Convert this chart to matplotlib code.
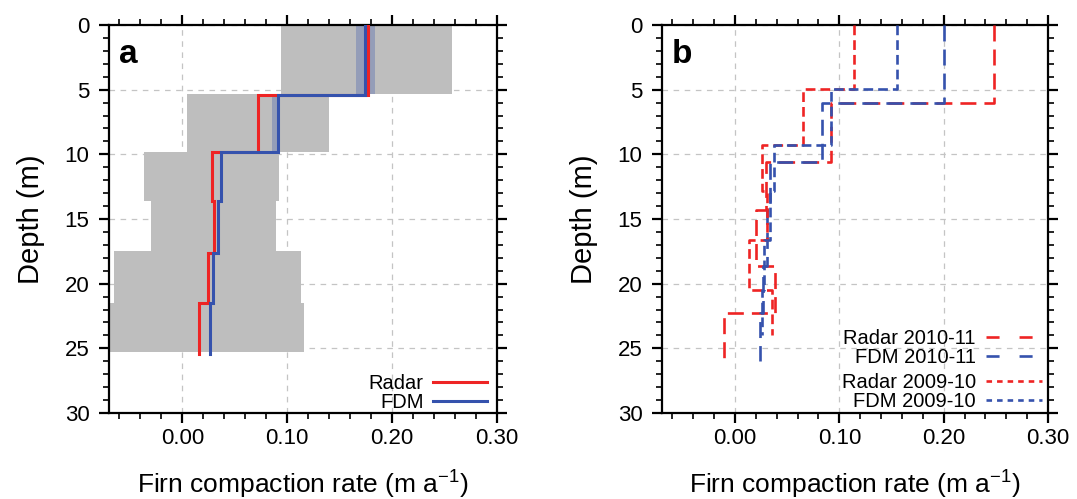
import numpy as np
import matplotlib
matplotlib.use("Agg")
import matplotlib.pyplot as plt
from matplotlib.lines import Line2D
from matplotlib.ticker import MultipleLocator, FormatStrFormatter

plt.rcParams['font.family'] = ['Liberation Sans', 'DejaVu Sans']
plt.rcParams['lines.scale_dashes'] = False
plt.rcParams['mathtext.fontset'] = 'custom'
plt.rcParams['mathtext.rm'] = 'Liberation Sans'

# ---------------- data ----------------
# panel a: layer edges (depth, m)
a_edges = [0, 5.4, 9.85, 13.6, 17.6, 21.5, 25.4]
a_radar = [0.177, 0.0717, 0.028, 0.030, 0.024, 0.016]
a_fdm = [0.174, 0.091, 0.037, 0.0337, 0.029, 0.026]
# uncertainty (grey) range
a_unc_edges = [0, 5.3, 9.8, 13.6, 17.5, 21.5, 25.3]
a_unc_lo = [0.094, 0.004, -0.037, -0.030, -0.065, -0.070]
a_unc_hi = [0.257, 0.140, 0.092, 0.089, 0.113, 0.116]
# FDM spread (first two layers)
a_fdm_lo = [0.166, 0.085]
a_fdm_hi = [0.184, 0.092]

# panel b
edges_0910 = [0, 4.95, 9.25, 12.8, 16.6, 20.5, 24.0]
edges_1011 = [0, 6.06, 10.57, 14.3, 18.6, 22.3, 26.0]
radar_1011 = [0.248, 0.092, 0.030, 0.020, 0.0385, -0.0106]
fdm_1011 = [0.200, 0.083, 0.034, 0.031, 0.027, 0.024]
radar_0910 = [0.114, 0.065, 0.026, 0.031, 0.0135, 0.035]
fdm_0910 = [0.155, 0.092, 0.0375, 0.034, 0.028, 0.026]

xticks = [0.00, 0.10, 0.20, 0.30]
yticks = [0, 5, 10, 15, 20, 25, 30]

RED = '#ee2424'
BLUE = '#3552ad'
GREY = '#bebebe'

LONG = (0, (11.5, 5.8))
SHORT = (0, (7.0, 3.6))
LONG_LEG = (0, (9.4, 14.4))
SHORT_LEG = (0, (4.0, 3.6))


def steps(vals, edges):
    e = np.asarray(edges, float)
    y = np.column_stack([e[:-1], e[1:]]).ravel()
    x = np.repeat(np.asarray(vals, float), 2)
    return x, y


fig = plt.figure(figsize=(10.77, 4.99), dpi=100)
ax_a = fig.add_axes([109 / 1077, 1 - 413 / 499, 388 / 1077, 388 / 499])
ax_b = fig.add_axes([662 / 1077, 1 - 413 / 499, 386 / 1077, 388 / 499])

for ax in (ax_a, ax_b):
    ax.set_xlim(-0.07, 0.30)
    ax.set_ylim(30, 0)
    ax.set_xticks(xticks)
    ax.set_yticks(yticks)
    ax.xaxis.set_major_formatter(FormatStrFormatter('%.2f'))
    ax.xaxis.set_minor_locator(MultipleLocator(0.02))
    ax.yaxis.set_minor_locator(MultipleLocator(1))
    ax.tick_params(which='both', direction='out', top=True, right=True,
                   labelsize=16)
    ax.tick_params(axis='x', which='both', pad=4)
    ax.tick_params(axis='y', which='both', pad=7)
    ax.tick_params(which='major', length=7, width=1.6)
    ax.tick_params(which='minor', length=4, width=1.2)
    for s in ax.spines.values():
        s.set_linewidth(1.6)
    ax.set_axisbelow(True)
    ax.grid(True, which='major', color='#c4c4c4', linewidth=0.9,
            linestyle=(0, (4, 4)))
    ax.set_xlabel('Firn compaction rate (m a$^{-1}$)', fontsize=19, labelpad=13)
    ax.set_ylabel('Depth (m)', fontsize=21, labelpad=14)

# ---- panel a ----
ue = np.asarray(a_unc_edges, float)
lo = np.asarray(a_unc_lo)
hi = np.asarray(a_unc_hi)
ax_a.barh((ue[:-1] + ue[1:]) / 2, hi - lo, left=lo, height=ue[1:] - ue[:-1],
          color=GREY, edgecolor='none', zorder=1)
flo = np.asarray(a_fdm_lo)
fhi = np.asarray(a_fdm_hi)
n = len(flo)
ax_a.barh((ue[:n] + ue[1:n + 1]) / 2, fhi - flo, left=flo,
          height=ue[1:n + 1] - ue[:n], color=BLUE, alpha=0.3,
          edgecolor='none', zorder=1.5)
x, y = steps(a_radar, a_edges)
ax_a.plot(x, y, color=RED, lw=2.2, zorder=3, solid_joinstyle='miter')
x, y = steps(a_fdm, a_edges)
ax_a.plot(x, y, color=BLUE, lw=2.2, zorder=4, solid_joinstyle='miter')
ax_a.text(0.025, 0.925, 'a', transform=ax_a.transAxes, fontsize=24,
          fontweight='bold', va='center', ha='left')
h_a = [Line2D([], [], color=RED, lw=2.2), Line2D([], [], color=BLUE, lw=2.2)]
ax_a.legend(h_a, ['Radar', 'FDM'], loc='center right',
            bbox_to_anchor=(0.974, 0.052), markerfirst=False, frameon=False,
            fontsize=14.5, handlelength=2.7, handletextpad=0.45,
            labelspacing=0.0, borderpad=0, borderaxespad=0)

# ---- panel b ----
for vals, edges, col, ls in [(radar_1011, edges_1011, RED, LONG),
                             (fdm_1011, edges_1011, BLUE, LONG),
                             (radar_0910, edges_0910, RED, SHORT),
                             (fdm_0910, edges_0910, BLUE, SHORT)]:
    x, y = steps(vals, edges)
    ax_b.plot(x, y, color=col, lw=1.9, linestyle=ls, zorder=3)
ax_b.text(0.025, 0.925, 'b', transform=ax_b.transAxes, fontsize=24,
          fontweight='bold', va='center', ha='left')
h1 = [Line2D([], [], color=RED, lw=1.9, linestyle=LONG_LEG),
      Line2D([], [], color=BLUE, lw=1.9, linestyle=LONG_LEG)]
h2 = [Line2D([], [], color=RED, lw=1.9, linestyle=SHORT_LEG),
      Line2D([], [], color=BLUE, lw=1.9, linestyle=SHORT_LEG)]
leg1 = ax_b.legend(h1, ['Radar 2010-11', 'FDM 2010-11'], loc='center right',
                   bbox_to_anchor=(0.985, 0.168), markerfirst=False,
                   frameon=False, fontsize=14.5, handlelength=2.8,
                   handletextpad=0.5, labelspacing=0.0, borderpad=0,
                   borderaxespad=0)
ax_b.add_artist(leg1)
ax_b.legend(h2, ['Radar 2009-10', 'FDM 2009-10'], loc='center right',
            bbox_to_anchor=(0.985, 0.054), markerfirst=False,
            frameon=False, fontsize=14.5, handlelength=2.8,
            handletextpad=0.5, labelspacing=0.0, borderpad=0,
            borderaxespad=0)

fig.savefig('out.png', dpi=100)
